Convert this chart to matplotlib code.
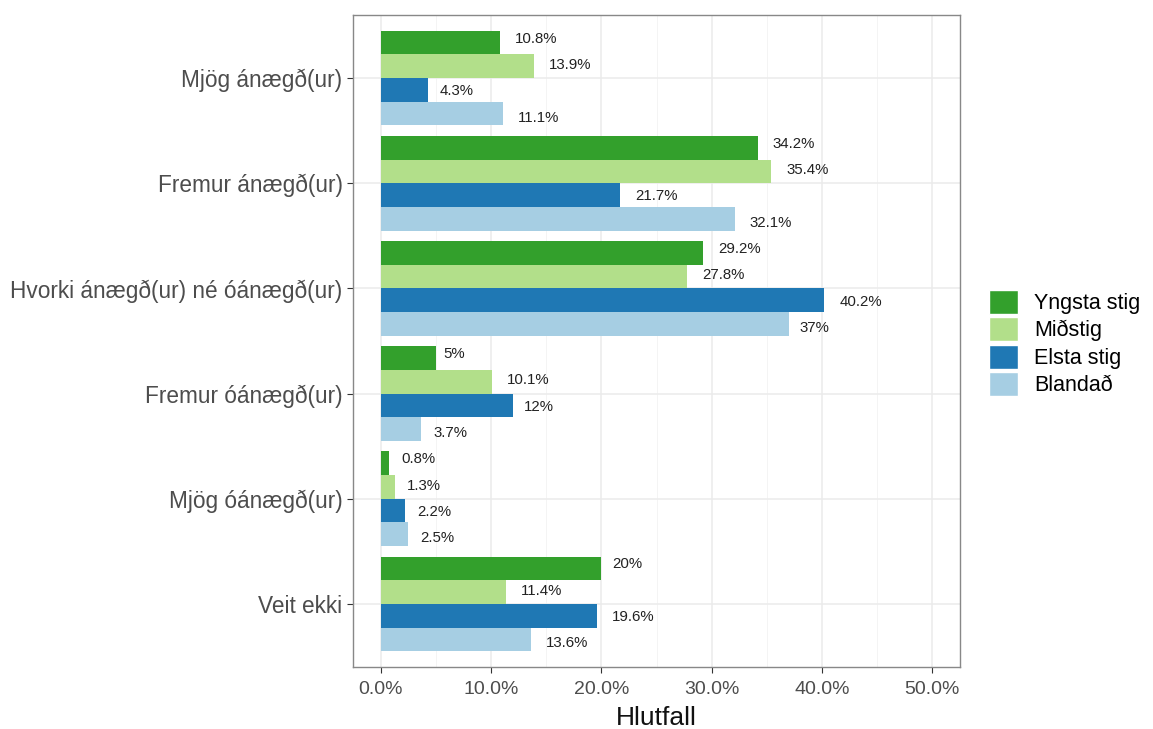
import numpy as np
import matplotlib.pyplot as plt
from matplotlib.patches import Patch

plt.rcParams['font.family'] = ['Liberation Sans', 'DejaVu Sans']

categories = ["Mjög ánægð(ur)", "Fremur ánægð(ur)", "Hvorki ánægð(ur) né óánægð(ur)",
              "Fremur óánægð(ur)", "Mjög óánægð(ur)", "Veit ekki"]
groups = ["Yngsta stig", "Miðstig", "Elsta stig", "Blandað"]
colors = ["#33A02C", "#B2DF8A", "#1F78B4", "#A6CEE3"]

yngsta = [10.8, 34.2, 29.2, 5.0, 0.8, 20.0]
midstig = [13.9, 35.4, 27.8, 10.1, 1.3, 11.4]
elsta = [4.3, 21.7, 40.2, 12.0, 2.2, 19.6]
blandad = [11.1, 32.1, 37.0, 3.7, 2.5, 13.6]
labels = [
    ["10.8%", "34.2%", "29.2%", "5%", "0.8%", "20%"],
    ["13.9%", "35.4%", "27.8%", "10.1%", "1.3%", "11.4%"],
    ["4.3%", "21.7%", "40.2%", "12%", "2.2%", "19.6%"],
    ["11.1%", "32.1%", "37%", "3.7%", "2.5%", "13.6%"],
]
series = [yngsta, midstig, elsta, blandad]

fig = plt.figure(figsize=(11.53, 7.29), dpi=100)
ax = fig.add_axes([353 / 1153, 1 - 667 / 729, (960 - 353) / 1153, (667 - 15) / 729])

n = len(categories)
ypos = np.arange(n)
bw = 0.9 / 4
texts = []
for i, (vals, col) in enumerate(zip(series, colors)):
    yb = ypos - 0.45 + bw * (i + 0.5)
    ax.barh(yb, vals, height=bw, color=col, zorder=3)
    yt = ypos - 0.5 + 0.25 * (i + 0.5)
    for v, y, lab in zip(vals, yt, labels[i]):
        t = ax.text(v, y, lab, fontsize=10.8, color="#222222", va="center", ha="left", zorder=4)
        texts.append(t)

ax.set_xlim(-2.5, 52.5)
ax.set_ylim(n - 0.4, -0.6)
ax.set_xticks(np.arange(0, 51, 10))
ax.set_xticklabels([f"{v:.1f}%" for v in np.arange(0, 51, 10)])
ax.set_xticks(np.arange(5, 50, 10), minor=True)
ax.set_yticks(ypos)
ax.set_yticklabels(categories)
ax.tick_params(axis="x", labelsize=14, labelcolor="#4D4D4D", color="#333333", length=4, pad=6)
ax.tick_params(axis="y", labelsize=16.3, labelcolor="#4D4D4D", color="#333333", length=4)
ax.tick_params(axis="x", which="minor", length=0)
ax.grid(True, which="major", color="#EBEBEB", linewidth=1.1, zorder=0)
ax.grid(True, which="minor", axis="x", color="#F3F3F3", linewidth=0.6, zorder=0)
for s in ax.spines.values():
    s.set_color("#888888")
    s.set_linewidth(1.0)
ax.set_xlabel("Hlutfall", fontsize=19, color="#111111", labelpad=6)

handles = [Patch(facecolor=c, edgecolor="white", label=g) for g, c in zip(groups, colors)]
fig.legend(handles=handles, loc="center left", bbox_to_anchor=(980 / 1153, 1 - 343 / 729),
           frameon=False, fontsize=15.5, handlelength=1.35, handleheight=1.35,
           handletextpad=0.75, labelspacing=0.15, borderaxespad=0)

# ggplot-like hjust: shift labels right by a fraction of their own width
fig.canvas.draw()
r = fig.canvas.get_renderer()
inv = ax.transData.inverted()
for t in texts:
    bb = t.get_window_extent(r)
    x0, y0 = t.get_position()
    px = ax.transData.transform((x0, y0))
    shift = 0.35 * bb.width
    nx = inv.transform((px[0] + shift, px[1]))[0]
    t.set_position((nx, y0))

fig.savefig("out.png", dpi=100)
